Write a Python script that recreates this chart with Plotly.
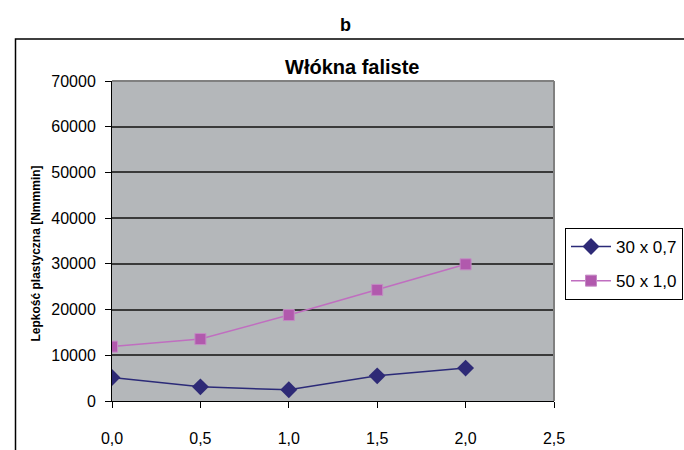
import plotly.graph_objects as go

x_vals = [0.0, 0.5, 1.0, 1.5, 2.0]
series1_name = "30 x 0,7"
series1 = [5150, 3100, 2450, 5500, 7200]
series2_name = "50 x 1,0"
series2 = [11900, 13550, 18800, 24300, 29900]
y_ticks = [0, 10000, 20000, 30000, 40000, 50000, 60000, 70000]
x_ticks = [0.0, 0.5, 1.0, 1.5, 2.0, 2.5]
title_text = "Włókna faliste"
panel_label = "b"
y_title = "Lepkość plastyczna [Nmmmin]"

FONT = "Liberation Sans, Arial, sans-serif"
L, R, T, B = 112, 554, 81, 401
W, H = 684, 450
pw, ph = R - L, B - T

def px(xp):
    return (xp - L) / pw

def py(yp):
    return (B - yp) / ph

fig = go.Figure()
fig.add_trace(go.Scatter(
    x=x_vals, y=series1, name=series1_name, mode="lines+markers",
    line=dict(color="#2b2a78", width=1.5),
    marker=dict(symbol="diamond", size=13, color="#2e2a76", line=dict(width=0)),
    legendgroup="a",
))
fig.add_trace(go.Scatter(
    x=x_vals, y=series2, name=series2_name, mode="lines+markers",
    line=dict(color="#c06ec0", width=1.5),
    marker=dict(symbol="square", size=11, color="#b159ad", line=dict(width=1, color="#c48ac4")),
    legendgroup="b",
))

fig.update_layout(
    width=W, height=H,
    margin=dict(l=L, r=W - R, t=T, b=H - B, pad=0, autoexpand=False),
    paper_bgcolor="white",
    plot_bgcolor="#b4b7ba",
    separators=", ",
    font=dict(family=FONT, size=16, color="black"),
    showlegend=True,
    legend=dict(
        x=px(565), y=py(228), xanchor="left", yanchor="top",
        bgcolor="white", bordercolor="black", borderwidth=1,
        font=dict(family=FONT, size=17, color="black"),
        traceorder="grouped", tracegroupgap=9, itemwidth=40,
    ),
    xaxis=dict(
        range=[0, 2.5], tickvals=x_ticks, tickformat=".1f",
        showgrid=False, zeroline=False, automargin=False,
        showline=True, linecolor="black", linewidth=1,
        ticks="outside", ticklen=6, tickcolor="black", tickwidth=1,
        ticklabelstandoff=17,
        tickfont=dict(family=FONT, size=16),
    ),
    yaxis=dict(
        range=[0, 70000], tickvals=y_ticks, tickformat="d",
        showgrid=True, gridcolor="#3a3a3a", gridwidth=1.5,
        zeroline=False, automargin=False,
        showline=True, linecolor="black", linewidth=1,
        ticks="outside", ticklen=6, tickcolor="black", tickwidth=1,
        ticklabelstandoff=6,
        tickfont=dict(family=FONT, size=16),
    ),
    shapes=[
        dict(type="line", xref="paper", yref="paper", x0=0, x1=1, y0=1, y1=1,
             line=dict(color="#808080", width=2)),
        dict(type="line", xref="paper", yref="paper", x0=1, x1=1, y0=0, y1=1,
             line=dict(color="#808080", width=2)),
        dict(type="rect", xref="paper", yref="paper", x0=px(15.5), x1=px(W + 20),
             y0=py(H + 20), y1=py(39), line=dict(color="black", width=1.5)),
    ],
    annotations=[
        dict(text="<b>" + panel_label + "</b>", xref="paper", yref="paper",
             x=px(345), y=py(25), xanchor="center", yanchor="middle",
             showarrow=False, font=dict(family=FONT, size=18)),
        dict(text="<b>" + title_text + "</b>", xref="paper", yref="paper",
             x=px(352), y=py(67), xanchor="center", yanchor="middle",
             showarrow=False, font=dict(family=FONT, size=20)),
        dict(text="<b>" + y_title + "</b>", xref="paper", yref="paper",
             x=px(35.5), y=py(254), xanchor="center", yanchor="middle",
             textangle=-90, showarrow=False, font=dict(family=FONT, size=12)),
    ],
)

fig.write_html("out.html")
